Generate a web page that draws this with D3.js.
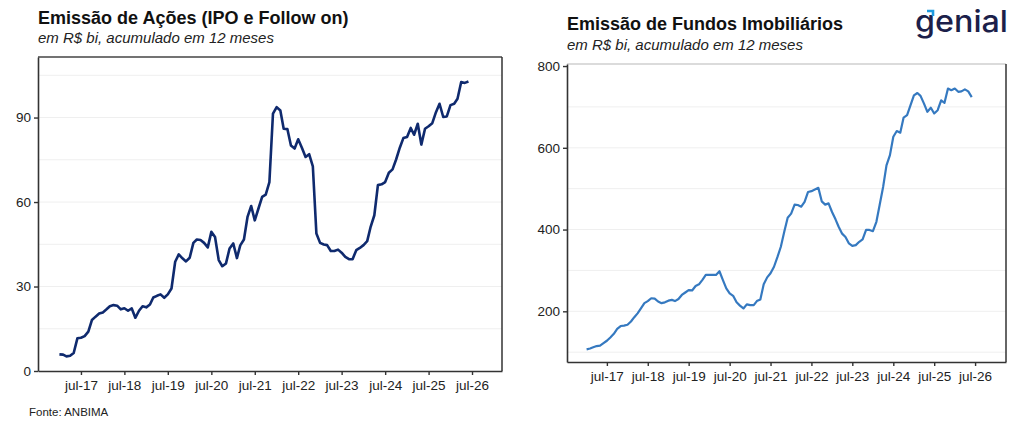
<!DOCTYPE html>
<html lang="pt">
<head>
  <meta charset="UTF-8">
  <title>Emissão de Ações e de Fundos Imobiliários</title>
  <script src="https://d3js.org/d3.v7.min.js"></script>
  <style>
    body {
      margin: 0;
      padding: 0;
      background: white;
      font-family: "Liberation Sans", Arial, sans-serif;
    }
    svg { display: block; }
    .tick text { font-size: 13.5px; fill: #222; }
    .title { font-size: 18px; font-weight: bold; fill: #111; }
    .subtitle { font-size: 15px; font-style: italic; fill: #222; }
  </style>
</head>
<body>
  <svg width="1024" height="427"></svg>

  <script>
    const width = 1024, height = 427;
    const svg = d3.select("svg");

    // meses de jan-17 a jun-26
    const months = d3.timeMonth.range(new Date(2017, 0, 1), new Date(2026, 6, 1));

    // Emissão de Ações (IPO e Follow on), R$ bi acumulado 12m
    const acoes = [
      5.9, 5.8, 5.2, 5.4, 6.4, 11.6, 11.8, 12.4, 14.0, 18.1, 19.3, 20.4,
      20.8, 21.9, 23.0, 23.4, 23.2, 21.9, 22.3, 21.4, 22.2, 18.9, 21.4, 23.0,
      22.6, 23.6, 26.1, 26.7, 27.2, 26.0, 27.2, 29.3, 38.8, 41.4, 40.0, 38.9,
      40.2, 45.5, 46.7, 46.5, 45.5, 43.9, 49.4, 47.6, 39.4, 37.2, 38.2, 43.5,
      45.3, 40.1, 44.6, 46.7, 54.7, 58.6, 53.5, 57.7, 61.8, 62.6, 67.1, 91.4,
      93.7, 92.5, 86.0, 85.9, 80.1, 79.0, 82.3, 79.3, 76.0, 77.0, 72.7, 48.8,
      45.5, 44.9, 44.7, 42.6, 42.6, 43.1, 42.0, 40.5, 39.7, 39.7, 42.9, 43.7,
      44.7, 46.1, 51.2, 55.3, 66.0, 66.3, 67.1, 70.4, 71.6, 75.1, 79.3, 82.7,
      83.1, 86.3, 83.9, 87.8, 80.4, 86.0, 86.9, 88.0, 91.9, 94.9, 90.2, 90.4,
      94.4, 94.9, 96.7, 102.6, 102.3, 102.8
    ];

    // Emissão de Fundos Imobiliários, R$ bi acumulado 12m
    const fundos = [
      107, 109, 112, 115, 116, 122, 128, 136, 145, 157, 164, 165,
      167, 175, 185, 195, 207, 220, 225, 232, 231, 224, 220, 222,
      226, 228, 225, 230, 240, 246, 252, 251, 262, 266, 277, 289,
      289, 289, 289, 298, 277, 256, 244, 238, 222, 214, 207, 217,
      215, 215, 225, 229, 266, 283, 293, 309, 333, 358, 395, 429,
      439, 461, 460, 456, 468, 492, 494, 498, 502, 469, 461, 464,
      443, 425, 407, 390, 382, 366, 360, 362, 370, 376, 399, 399,
      396, 419, 460, 504, 557, 582, 627, 641, 637, 674, 680, 704,
      728, 734, 727, 708, 688, 698, 684, 692, 716, 710, 745, 741,
      745, 737, 738, 743, 738, 724
    ];

    const xTickDates = d3.range(2017, 2027).map(y => new Date(y, 6, 1));
    const xTickLabels = ["jul-17", "jul-18", "jul-19", "jul-20", "jul-21",
                         "jul-22", "jul-23", "jul-24", "jul-25", "jul-26"];

    const acoesTicks = [0, 30, 60, 90];
    const acoesGrid = [15, 30, 45, 60, 75, 90, 105];
    const fundosTicks = [200, 400, 600, 800];
    const fundosGrid = [100, 200, 300, 400, 500, 600, 700];

    function drawPanel(cfg) {
      const g = svg.append("g");

      const x = d3.scaleTime()
        .domain(cfg.xDomain)
        .range([cfg.left, cfg.right]);
      const y = d3.scaleLinear()
        .domain(cfg.yDomain)
        .range([cfg.bottom, cfg.top]);

      // grade horizontal clara
      g.selectAll(".grid")
        .data(cfg.grid)
        .join("line")
        .attr("x1", cfg.left).attr("x2", cfg.right)
        .attr("y1", d => y(d)).attr("y2", d => y(d))
        .attr("stroke", "#efefef")
        .attr("stroke-width", 1);

      // moldura superior e direita
      g.append("line")
        .attr("x1", cfg.left).attr("x2", cfg.right)
        .attr("y1", cfg.top).attr("y2", cfg.top)
        .attr("stroke", cfg.topStroke).attr("stroke-width", 1.3);
      g.append("line")
        .attr("x1", cfg.right).attr("x2", cfg.right)
        .attr("y1", cfg.top).attr("y2", cfg.bottom)
        .attr("stroke", "#333").attr("stroke-width", 1.5);

      const line = d3.line()
        .x((d, i) => x(months[i]))
        .y(d => y(d));

      g.append("path")
        .datum(cfg.values)
        .attr("fill", "none")
        .attr("stroke", cfg.color)
        .attr("stroke-width", cfg.lineWidth)
        .attr("stroke-linejoin", "round")
        .attr("d", line);

      const xAxis = d3.axisBottom(x)
        .tickValues(xTickDates)
        .tickFormat((d, i) => xTickLabels[i])
        .tickSize(4)
        .tickSizeOuter(0)
        .tickPadding(5);

      const gx = g.append("g")
        .attr("transform", `translate(0,${cfg.bottom})`)
        .call(xAxis);

      const yAxis = d3.axisLeft(y)
        .tickValues(cfg.ticks)
        .tickSize(4)
        .tickSizeOuter(0)
        .tickPadding(3);

      const gy = g.append("g")
        .attr("transform", `translate(${cfg.left},0)`)
        .call(yAxis);

      [gx, gy].forEach(a => {
        a.select(".domain").attr("stroke", "#333").attr("stroke-width", 1.6);
        a.selectAll(".tick line").attr("stroke", "#333").attr("stroke-width", 1.4);
        a.selectAll(".tick text").attr("font-family", "'Liberation Sans', Arial, sans-serif");
      });

      g.append("text")
        .attr("class", "title")
        .attr("x", cfg.left)
        .attr("y", cfg.titleY)
        .text(cfg.title);
      g.append("text")
        .attr("class", "subtitle")
        .attr("x", cfg.left)
        .attr("y", cfg.subY)
        .text("em R$ bi, acumulado em 12 meses");
    }

    drawPanel({
      title: "Emissão de Ações (IPO e Follow on)",
      values: acoes,
      ticks: acoesTicks,
      grid: acoesGrid,
      xDomain: [new Date(2016, 6, 5), new Date(2027, 2, 10)],
      yDomain: [0, 111.5],
      left: 38, right: 502, top: 57, bottom: 371,
      titleY: 24, subY: 43,
      topStroke: "#444",
      color: "#0f2a6e",
      lineWidth: 2.6
    });

    drawPanel({
      title: "Emissão de Fundos Imobiliários",
      values: fundos,
      ticks: fundosTicks,
      grid: fundosGrid,
      xDomain: [new Date(2016, 6, 10), new Date(2027, 3, 3)],
      yDomain: [76, 805],
      left: 567, right: 1006, top: 64, bottom: 362,
      titleY: 30, subY: 50,
      topStroke: "#cfcfcf",
      color: "#3579c0",
      lineWidth: 2.2
    });

    // fonte
    svg.append("text")
      .attr("x", 29)
      .attr("y", 416)
      .attr("font-size", "11.5px")
      .attr("fill", "#222")
      .text("Fonte: ANBIMA");

    // logo
    const logo = svg.append("g");
    logo.append("text")
      .attr("x", 915)
      .attr("y", 32)
      .attr("font-family", "Inter, 'Noto Sans', sans-serif")
      .attr("font-weight", 500)
      .attr("font-size", "30px")
      .attr("textLength", 93)
      .attr("lengthAdjust", "spacingAndGlyphs")
      .attr("fill", "#1c1f4a")
      .text("genial");
    logo.append("path")
      .attr("d", "M927,11 L933,11 L933,16")
      .attr("fill", "none")
      .attr("stroke", "#1e9be0")
      .attr("stroke-width", 2.6);
  </script>
</body>
</html>
